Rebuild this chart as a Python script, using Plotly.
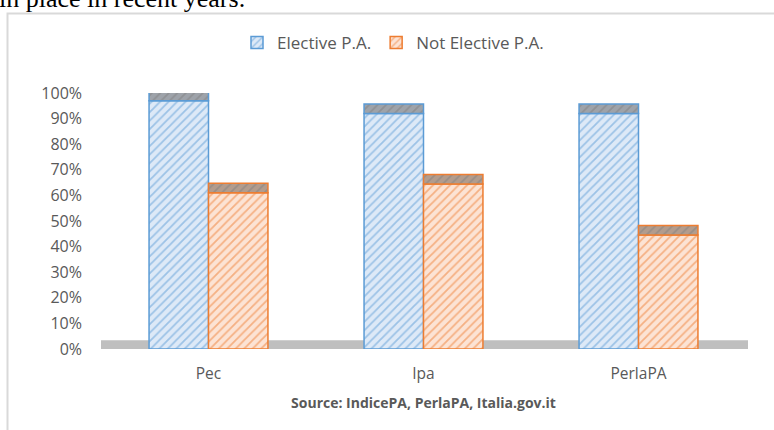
import plotly.graph_objects as go

categories = ["Pec", "Ipa", "PerlaPA"]
elective = [97, 92, 92]
not_elective = [61, 64.5, 44.5]
y_ticks = [0, 10, 20, 30, 40, 50, 60, 70, 80, 90, 100]
y_tick_labels = [f"{v}%" for v in y_ticks]

CAP = 3.7  # depth of the 3D top face, in axis units
FONT = "Open Sans"
GRAY_TXT = "#595959"

fig = go.Figure()

series = [
    ("Elective P.A.", elective, "#5b9bd5", "#dde9f7", "#9ea3aa", "e"),
    ("Not Elective P.A.", not_elective, "#ed7d31", "#fce3d4", "#b39c8d", "n"),
]
for name, vals, col, bg, capcol, grp in series:
    fig.add_trace(go.Bar(
        x=categories, y=vals, name=name, offsetgroup=grp,
        marker=dict(color=bg, line=dict(color=col, width=1.5),
                    pattern=dict(shape="/", fgcolor=col, bgcolor=bg, size=6, solidity=0.3)),
        hoverinfo="skip",
    ))
for name, vals, col, bg, capcol, grp in series:
    fig.add_trace(go.Bar(
        x=categories, y=[CAP] * len(vals), base=vals, offsetgroup=grp, showlegend=False,
        marker=dict(color="#a6a6a6", line=dict(color=col, width=1.5),
                    pattern=dict(shape="/", fgcolor="#7f7f7f", bgcolor=capcol, size=6, solidity=0.3)),
        hoverinfo="skip",
    ))

L, R, T, B = 101, 28, 93, 81
W, H = 774, 430
pw, ph = W - L - R, H - T - B


def px_x(px):
    return (px - L) / pw


def px_y(py):
    return (H - B - py) / ph


# floor
fig.add_shape(type="rect", xref="paper", yref="y", x0=0, x1=px_x(748), y0=0, y1=3.4,
              fillcolor="#bfbfbf", line_width=0, layer="below")
# chart frame
fig.add_shape(type="rect", xref="paper", yref="paper", x0=px_x(7.5), x1=px_x(790),
              y0=px_y(450), y1=px_y(13.5), line=dict(color="#d9d9d9", width=2),
              fillcolor="rgba(0,0,0,0)", layer="below")

fig.add_annotation(text="in place in recent years.", xref="paper", yref="paper",
                   x=px_x(-3), y=px_y(15), xanchor="left", yanchor="bottom",
                   showarrow=False, font=dict(family="Liberation Serif", size=26, color="black"))

fig.update_layout(
    width=W, height=H, margin=dict(l=L, r=R, t=T, b=B),
    paper_bgcolor="white", plot_bgcolor="white",
    barmode="group", bargap=0.447, bargroupgap=0,
    font=dict(family=FONT, size=14, color=GRAY_TXT),
    legend=dict(orientation="h", x=px_x(393), xanchor="center", y=px_y(43), yanchor="middle",
                font=dict(size=17, color=GRAY_TXT), itemwidth=30, traceorder="normal"),
    showlegend=True,
)
fig.update_xaxes(showgrid=False, zeroline=False, showline=False, ticks="",
                 ticklabelstandoff=13, tickfont=dict(size=15.5, color=GRAY_TXT),
                 title=dict(text="<b>Source: IndicePA, PerlaPA, Italia.gov.it</b>",
                            font=dict(size=14, color=GRAY_TXT), standoff=15))
fig.update_yaxes(range=[0, 100], tickvals=y_ticks, ticktext=y_tick_labels, showgrid=False,
                 zeroline=False, showline=False, ticks="", ticklabelstandoff=18,
                 tickfont=dict(size=16, color=GRAY_TXT))

fig.write_html("out.html")
